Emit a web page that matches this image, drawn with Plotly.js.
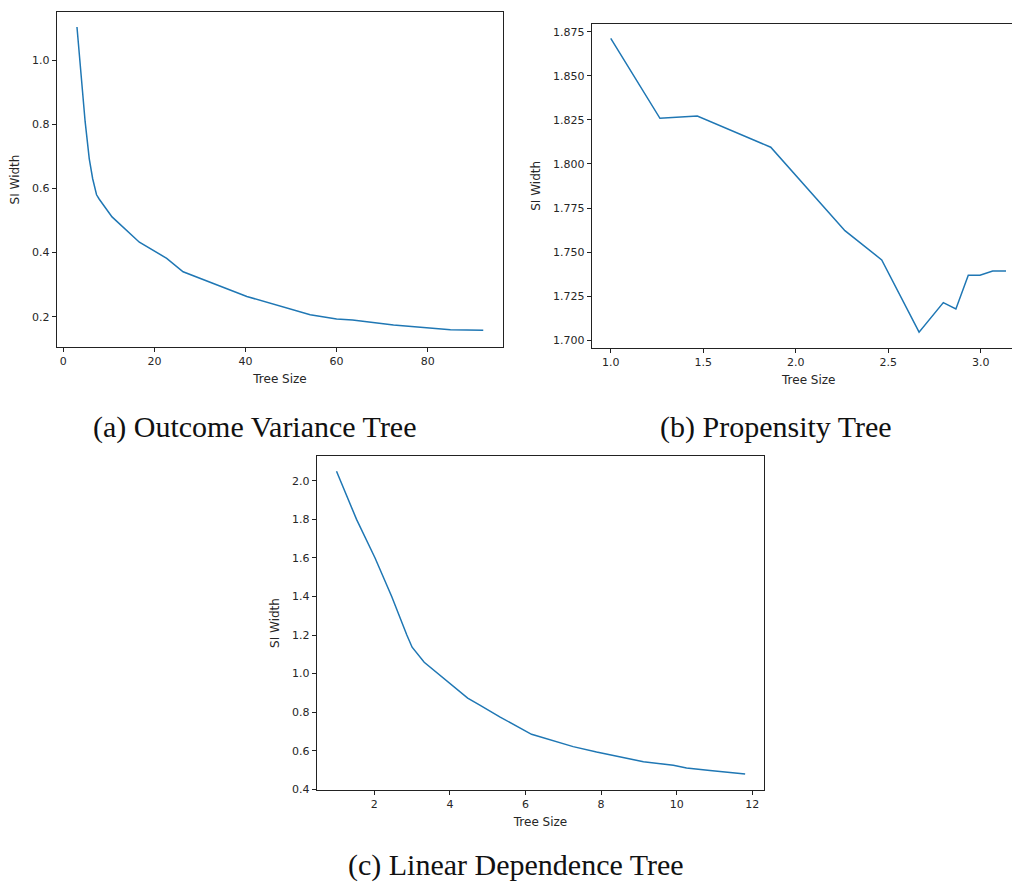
<!DOCTYPE html>
<html>
<head>
<meta charset="utf-8">
<script src="https://cdn.plot.ly/plotly-3.0.1.min.js"></script>
<style>
  html, body { margin: 0; padding: 0; background: #fff; overflow: hidden; }
  #chart { width: 1040px; height: 884px; }
</style>
</head>
<body>
<div id="chart"></div>
<script>
// (a) Outcome variance tree: SI width against tree size
const outcomeTreeSize = [3.0, 3.9, 4.8, 5.7, 6.45, 7.3, 7.9, 10.7, 16.7, 22.7, 26.3, 40.3, 54.2, 60.0, 63.5, 72.5, 81.2, 85.0, 92.2];
const outcomeSIWidth  = [1.103, 0.942, 0.807, 0.692, 0.630, 0.580, 0.566, 0.511, 0.432, 0.382, 0.340, 0.263, 0.206, 0.193, 0.190, 0.174, 0.162, 0.159, 0.158];

// (b) Propensity tree
const propensityTreeSize = [1.0, 1.266, 1.468, 1.865, 2.266, 2.465, 2.667, 2.798, 2.866, 2.933, 2.996, 3.065, 3.137];
const propensitySIWidth  = [1.8713, 1.8259, 1.8272, 1.8095, 1.7622, 1.7456, 1.7046, 1.7214, 1.7178, 1.7369, 1.7369, 1.7393, 1.7393];

// (c) Linear dependence tree
const linearTreeSize = [1.0, 1.53, 2.02, 2.46, 2.86, 3.0, 3.32, 4.47, 4.78, 5.33, 6.16, 6.65, 7.26, 7.88, 8.5, 9.12, 9.91, 10.26, 10.88, 11.23, 11.5, 11.81];
const linearSIWidth  = [2.05, 1.80, 1.60, 1.40, 1.20, 1.137, 1.059, 0.873, 0.838, 0.774, 0.685, 0.655, 0.621, 0.593, 0.567, 0.543, 0.524, 0.510, 0.497, 0.491, 0.483, 0.479];

const captions = ["(a) Outcome Variance Tree", "(b) Propensity Tree", "(c) Linear Dependence Tree"];
const xTitle = "Tree Size";
const yTitle = "SI Width";

const W = 1040, H = 884;
const px = v => v / W;
const py = v => 1 - v / H;

const lineColor = "#1f77b4";
const tickFont = { family: "DejaVu Sans", size: 11, color: "#262626" };
const titleFont = { family: "DejaVu Sans", size: 12, color: "#262626" };

function axisBase(extra) {
  return Object.assign({
    showgrid: false,
    zeroline: false,
    showline: true,
    linecolor: "#222",
    linewidth: 1,
    mirror: true,
    ticks: "outside",
    ticklen: 4,
    tickwidth: 1,
    tickcolor: "#222",
    tickfont: tickFont,
    fixedrange: true
  }, extra);
}

const xTitleCfg = { text: xTitle, font: titleFont, standoff: 7 };
const yTitleCfg = { text: yTitle, font: titleFont, standoff: 9 };

const traces = [
  { x: outcomeTreeSize, y: outcomeSIWidth, xaxis: "x", yaxis: "y" },
  { x: propensityTreeSize, y: propensitySIWidth, xaxis: "x2", yaxis: "y2" },
  { x: linearTreeSize, y: linearSIWidth, xaxis: "x3", yaxis: "y3" }
].map(t => Object.assign(t, {
  type: "scatter",
  mode: "lines",
  line: { color: lineColor, width: 1.5 },
  showlegend: false,
  hoverinfo: "skip"
}));

const layout = {
  width: W,
  height: H,
  margin: { l: 0, r: 0, t: 0, b: 0 },
  paper_bgcolor: "#fff",
  plot_bgcolor: "#fff",
  showlegend: false,

  xaxis: axisBase({
    domain: [px(56.7), px(503.3)], range: [-1.45, 96.6],
    tick0: 0, dtick: 20, anchor: "y", title: xTitleCfg
  }),
  yaxis: axisBase({
    domain: [py(346.7), py(12.3)], range: [0.1065, 1.1487],
    tick0: 0, dtick: 0.2, tickformat: ".1f", anchor: "x", title: yTitleCfg
  }),

  xaxis2: axisBase({
    domain: [px(591.7), px(1025.8)], range: [0.897, 3.244],
    tick0: 0, dtick: 0.5, tickformat: ".1f", anchor: "y2", title: xTitleCfg
  }),
  yaxis2: axisBase({
    domain: [py(347.7), py(24)], range: [1.6958, 1.8794],
    tick0: 0, dtick: 0.025, tickformat: ".3f", anchor: "x2", title: yTitleCfg
  }),

  xaxis3: axisBase({
    domain: [px(316.7), px(764.3)], range: [0.476, 12.317],
    tick0: 0, dtick: 2, anchor: "y3", title: xTitleCfg
  }),
  yaxis3: axisBase({
    domain: [py(790), py(456)], range: [0.396, 2.129],
    tick0: 0, dtick: 0.2, tickformat: ".1f", anchor: "x3", title: yTitleCfg
  }),

  annotations: [
    { text: captions[0], x: px(255), y: py(427) },
    { text: captions[1], x: px(776), y: py(427) },
    { text: captions[2], x: px(515.5), y: py(865) }
  ].map(a => Object.assign(a, {
    xref: "paper", yref: "paper",
    xanchor: "center", yanchor: "middle",
    showarrow: false,
    borderpad: 0,
    font: { family: "Liberation Serif", size: 30, color: "#111" }
  }))
};

Plotly.newPlot("chart", traces, layout, { staticPlot: true, displayModeBar: false });
</script>
</body>
</html>
